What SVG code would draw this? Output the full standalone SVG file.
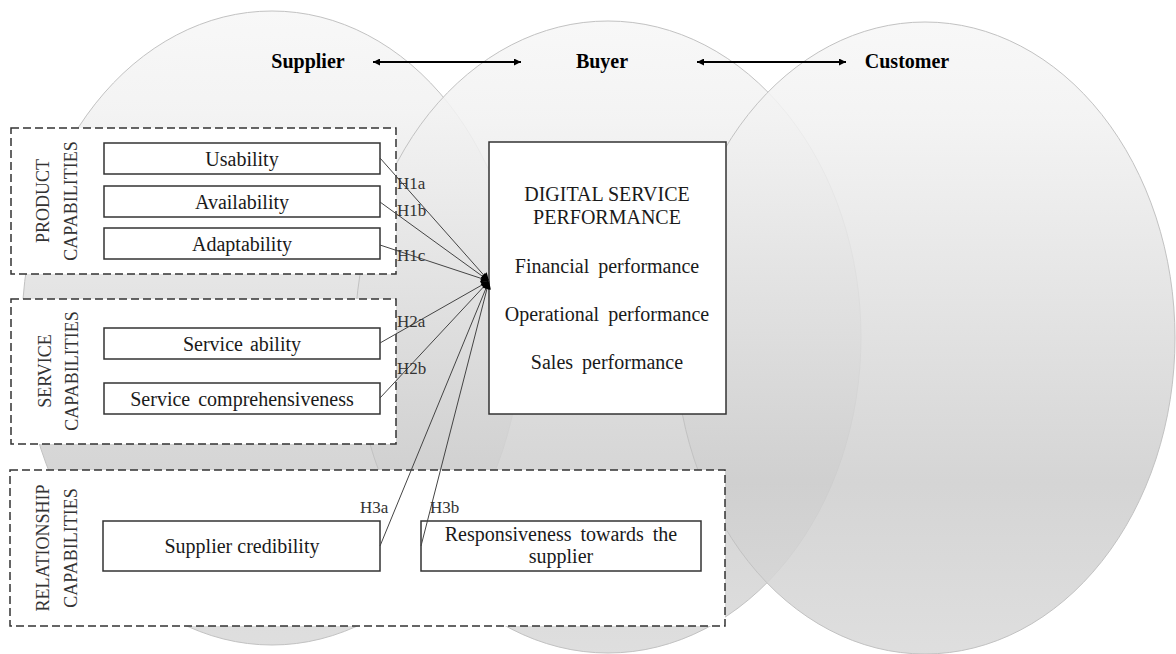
<svg xmlns="http://www.w3.org/2000/svg" width="1176" height="654" viewBox="0 0 1176 654">
<defs>
<linearGradient id="g" x1="0" y1="0" x2="0" y2="1">
<stop offset="0" stop-color="#f7f7f7"/>
<stop offset="0.15" stop-color="#f2f2f2"/>
<stop offset="0.73" stop-color="#cfcfcf"/>
<stop offset="1" stop-color="#dadada"/>
</linearGradient>
<marker id="ah" viewBox="0 0 10 10" refX="10" refY="5" markerWidth="9" markerHeight="7" markerUnits="userSpaceOnUse" orient="auto-start-reverse">
<path d="M0,0 L10,5 L0,10 z" fill="#000"/>
</marker>
<marker id="cn" viewBox="0 0 10 10" refX="10" refY="5" markerWidth="10" markerHeight="8" markerUnits="userSpaceOnUse" orient="auto">
<path d="M0,0 L10,5 L0,10 z" fill="#000"/>
</marker>
<style>
.ell{fill:url(#g);fill-opacity:0.88;stroke:#c2c2c2;stroke-width:1}
.grp{fill:#fff;stroke:#333;stroke-width:1.5;stroke-dasharray:8 4}
.box{fill:#fff;stroke:#333;stroke-width:1.5}
.t{font-family:"Liberation Serif","Times New Roman",serif;font-size:20px;fill:#1a1a1a;text-anchor:middle}
.v{font-family:"Liberation Serif","Times New Roman",serif;font-size:18px;fill:#333;text-anchor:middle}
.h{font-family:"Liberation Serif","Times New Roman",serif;font-size:17px;fill:#333}
.b{font-family:"Liberation Serif","Times New Roman",serif;font-size:20px;font-weight:bold;fill:#000;text-anchor:middle}
.ln{stroke:#444;stroke-width:1;fill:none}
.ar{stroke:#000;stroke-width:2;fill:none}
</style>
</defs>
<rect width="1176" height="654" fill="#fff"/>
<g id="circles">
<ellipse class="ell" cx="272" cy="328" rx="250" ry="317"/>
<ellipse class="ell" cx="608" cy="337" rx="253" ry="316"/>
<ellipse class="ell" cx="925" cy="338" rx="250" ry="316"/>
</g>
<g id="actors">
<text class="b" x="308" y="68">Supplier</text>
<text class="b" x="602" y="68">Buyer</text>
<text class="b" x="907" y="68">Customer</text>
<path class="ar" d="M373,62 L521,62" marker-start="url(#ah)" marker-end="url(#ah)"/>
<path class="ar" d="M697,62 L846,62" marker-start="url(#ah)" marker-end="url(#ah)"/>
</g>
<g id="product">
<rect class="grp" x="11" y="128" width="385" height="146"/>
<text class="v" transform="translate(49,201) rotate(-90)">PRODUCT</text>
<text class="v" transform="translate(77,201) rotate(-90)">CAPABILITIES</text>
</g>
<g id="usability"><rect class="box" x="104" y="143" width="276" height="31"/><text class="t" x="242" y="166">Usability</text></g>
<g id="availability"><rect class="box" x="104" y="186" width="276" height="31"/><text class="t" x="242" y="209">Availability</text></g>
<g id="adaptability"><rect class="box" x="104" y="228" width="276" height="31"/><text class="t" x="242" y="251">Adaptability</text></g>
<g id="service">
<rect class="grp" x="11" y="299" width="385" height="145"/>
<text class="v" transform="translate(51,371) rotate(-90)">SERVICE</text>
<text class="v" transform="translate(78,371) rotate(-90)">CAPABILITIES</text>
</g>
<g id="serviceability"><rect class="box" x="104" y="328" width="276" height="31"/><text class="t" x="242" y="351" style="word-spacing:2px">Service ability</text></g>
<g id="comprehensiveness"><rect class="box" x="104" y="383" width="276" height="31"/><text class="t" x="242" y="406" style="word-spacing:3px">Service comprehensiveness</text></g>
<g id="relationship">
<rect class="grp" x="10" y="470" width="715" height="156"/>
<text class="v" transform="translate(49,548) rotate(-90)">RELATIONSHIP</text>
<text class="v" transform="translate(77,548) rotate(-90)">CAPABILITIES</text>
</g>
<g id="credibility"><rect class="box" x="103" y="521" width="277" height="50"/><text class="t" x="242" y="553">Supplier credibility</text></g>
<g id="responsiveness"><rect class="box" x="421" y="521" width="280" height="50"/><text class="t" x="561" y="541" style="word-spacing:4px">Responsiveness towards the</text><text class="t" x="561" y="563">supplier</text></g>
<g id="dsp">
<rect class="box" x="489" y="142" width="237" height="272"/>
<text class="t" x="607" y="201">DIGITAL SERVICE</text>
<text class="t" x="607" y="224">PERFORMANCE</text>
<text class="t" x="607" y="273" style="word-spacing:4px">Financial performance</text>
<text class="t" x="607" y="321" style="word-spacing:4px">Operational performance</text>
<text class="t" x="607" y="369" style="word-spacing:4px">Sales performance</text>
</g>
<g id="connectors">
<line class="ln" x1="380" y1="158" x2="489" y2="281" marker-end="url(#cn)"/>
<line class="ln" x1="380" y1="202" x2="489" y2="281" marker-end="url(#cn)"/>
<line class="ln" x1="380" y1="245" x2="489" y2="281" marker-end="url(#cn)"/>
<line class="ln" x1="380" y1="343" x2="489" y2="281" marker-end="url(#cn)"/>
<line class="ln" x1="380" y1="398" x2="489" y2="281" marker-end="url(#cn)"/>
<line class="ln" x1="380" y1="546" x2="489" y2="281" marker-end="url(#cn)"/>
<line class="ln" x1="421" y1="546" x2="489" y2="281" marker-end="url(#cn)"/>
</g>
<g id="labels">
<text class="h" x="397" y="189">H1a</text>
<text class="h" x="397" y="216">H1b</text>
<text class="h" x="397" y="261">H1c</text>
<text class="h" x="397" y="327">H2a</text>
<text class="h" x="397" y="374">H2b</text>
<text class="h" x="360" y="513">H3a</text>
<text class="h" x="430" y="513">H3b</text>
</g>
</svg>
